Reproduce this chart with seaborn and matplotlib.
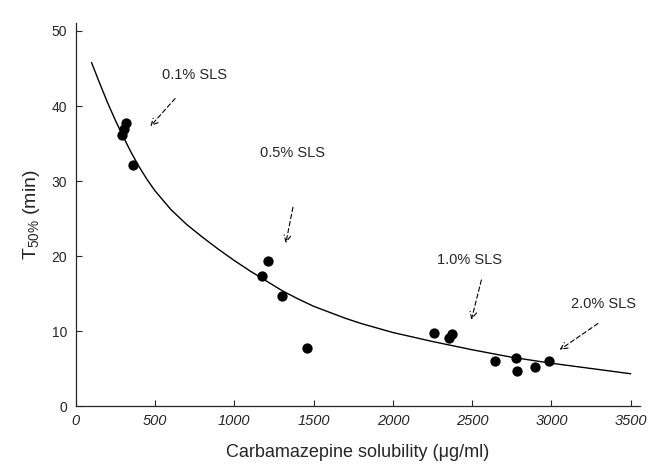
import matplotlib
matplotlib.use("Agg")
import matplotlib.pyplot as plt
import seaborn as sns
import pandas as pd

# Measured points: solubility (ug/ml) vs T50% (min)
sol = [292, 307, 317, 359,
       1176, 1210, 1302, 1459,
       2260, 2352, 2371, 2642, 2774, 2783, 2896, 2984]
t50 = [36.1, 36.9, 37.7, 32.1,
       17.4, 19.4, 14.7, 7.8,
       9.7, 9.1, 9.6, 6.0, 6.4, 4.7, 5.2, 6.0]

# Fitted curve
curve_x = [100, 150, 200, 250, 300, 350, 400, 450, 500, 600, 700, 800, 900,
           1000, 1100, 1200, 1300, 1400, 1500, 1600, 1700, 1800, 1900, 2000,
           2250, 2500, 2750, 3000, 3250, 3500]
curve_y = [45.8, 43.1, 40.5, 38.1, 35.9, 33.8, 31.9, 30.2, 28.7, 26.2, 24.2,
           22.5, 20.9, 19.4, 18.0, 16.7, 15.4, 14.3, 13.3, 12.5, 11.7, 11.0,
           10.4, 9.8, 8.6, 7.5, 6.5, 5.7, 5.0, 4.3]

# Annotations
ann_text = ["0.1% SLS", "0.5% SLS", "1.0% SLS", "2.0% SLS"]
ann_text_xy = [(752, 44.1), (1364, 33.7), (2485, 19.5), (3325, 13.6)]
ann_tail = [(627, 41.0), (1370, 26.5), (2558, 16.8), (3293, 11.0)]
ann_head = [(471, 37.3), (1325, 21.7), (2495, 11.5), (3052, 7.5)]

xticks = [0, 500, 1000, 1500, 2000, 2500, 3000, 3500]
yticks = [0, 10, 20, 30, 40, 50]

sns.set_style("ticks")
plt.rcParams['font.family'] = ['Liberation Sans', 'DejaVu Sans']
plt.rcParams['mathtext.fontset'] = 'custom'
plt.rcParams['mathtext.rm'] = 'Liberation Sans'
plt.rcParams['mathtext.it'] = 'Liberation Sans:italic'

fig = plt.figure(figsize=(6.49, 4.69), dpi=100)
ax = fig.add_axes([0.1166, 0.1343, 0.869, 0.8156])

pts = pd.DataFrame({"sol": sol, "t50": t50})
cur = pd.DataFrame({"x": curve_x, "y": curve_y})

sns.lineplot(data=cur, x="x", y="y", ax=ax, color="black", lw=1.0,
             sort=True, estimator=None)
sns.scatterplot(data=pts, x="sol", y="t50", ax=ax, color="black", s=55,
                edgecolor="black", linewidth=0, zorder=3)

for txt, txy, tail, head in zip(ann_text, ann_text_xy, ann_tail, ann_head):
    ax.text(txy[0], txy[1], txt, ha="center", va="center", fontsize=10.5)
    ax.annotate("", xy=head, xytext=tail,
                arrowprops=dict(arrowstyle="->", linestyle=(0, (4, 2.5)),
                                lw=0.8, color="black",
                                shrinkA=0, shrinkB=0, mutation_scale=12))

ax.set_xlim(0, 3556)
ax.set_ylim(0, 51)
ax.set_xticks(xticks)
ax.set_yticks(yticks)
ax.set_xticklabels([str(v) for v in xticks], fontstyle="italic", fontsize=10.5)
ax.set_yticklabels([str(v) for v in yticks], fontsize=10)
ax.tick_params(direction="in", length=4, width=0.8, pad=6)
for s in ["top", "right"]:
    ax.spines[s].set_visible(False)
for s in ["left", "bottom"]:
    ax.spines[s].set_linewidth(0.9)

ax.set_xlabel("Carbamazepine solubility (μg/ml)", fontsize=13, labelpad=11)
ax.set_ylabel(r"T$_{\mathrm{50\%}}$ (min)", fontsize=14, labelpad=7)

fig.savefig("out.png", dpi=100)
